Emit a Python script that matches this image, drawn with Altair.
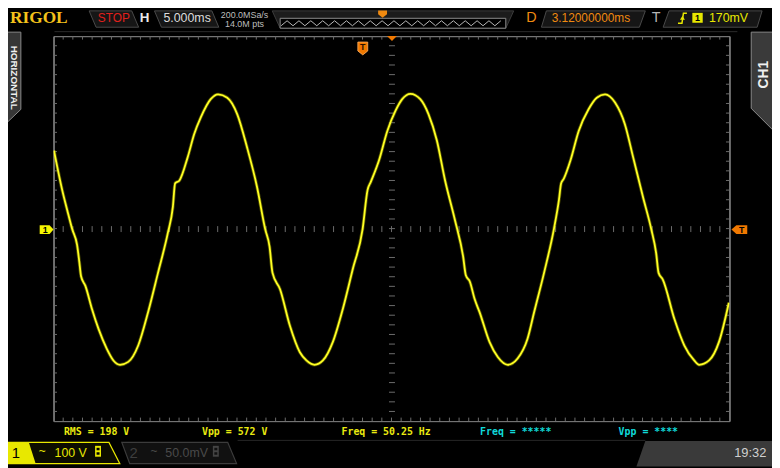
import altair as alt
import pandas as pd

# CH1 trace: time (ms, relative to screen centre) and voltage (V)
time_ms = [-34.95, -34.10, -33.59, -33.07, -32.56, -32.33, -32.15, -31.70, -31.02, -30.33,
           -29.48, -28.80, -28.11, -27.26, -26.23, -25.21, -24.18, -23.16, -22.64, -22.41,
           -21.96, -21.11, -20.42, -19.75, -18.72, -17.96, -17.01, -15.98, -14.96, -13.93,
           -13.08, -12.63, -12.32, -11.54, -10.52, -9.49, -8.81, -7.96, -7.10, -6.08,
           -5.04, -4.02, -2.99, -2.48, -2.14, -1.29, -0.43, 0.42, 1.11, 1.96,
           2.98, 3.83, 4.70, 5.55, 6.57, 7.42, 7.70, 8.11, 8.62, 9.13, 10.16,
           11.01, 12.04, 13.06, 14.09, 14.77, 15.80, 16.82, 17.34, 17.57, 17.85,
           18.54, 19.39, 20.41, 21.26, 22.12, 23.15, 24.17, 25.03, 26.04, 26.90,
           27.41, 27.66, 28.10, 29.30, 30.33, 31.35, 31.86, 32.89, 33.91, 34.94]
volts = [162, 80, 39, -1, -34, -69, -99, -119, -167, -209,
         -250, -274, -283, -277, -243, -174, -92, -9, 45, 94,
         100, 148, 197, 231, 269, 279, 272, 238, 169, 87,
         -1, -37, -92, -126, -202, -257, -274, -283, -274, -236,
         -167, -85, -1, 80, 97, 142, 203, 245, 269, 280,
         269, 238, 183, 100, 18, -58, -97, -110, -147, -174, -236,
         -267, -283, -270, -229, -174, -92, -1, 59, 94, 104,
         142, 203, 248, 272, 279, 262, 217, 148, 66, -1,
         -51, -92, -106, -188, -243, -274, -283, -274, -236, -154]

x_div_ms = [-35, -30, -25, -20, -15, -10, -5, 0, 5, 10, 15, 20, 25, 30, 35]   # 5.000 ms/div
y_div_v = [-400, -300, -200, -100, 0, 100, 200, 300, 400]                     # 100 V/div
x_minor_ms = list(range(-34, 35))          # 0.2 div sub-ticks
y_minor_v = list(range(-380, 381, 20))     # 0.2 div sub-ticks

measure_text = ["RMS = 198 V", "Vpp = 572 V", "Freq = 50.25 Hz", "Freq = *****", "Vpp = ****"]
header_text = ["STOP", "H", "5.000ms", "200.0MSa/s", "14.0M pts", "D", "3.12000000ms", "T", "170mV"]
channel_text = ["1", "100 V", "2", "50.0mV", "19:32"]

# ---------------- layout ----------------
OX, OY = 54, 34          # screen position of the graticule origin
W, H = 683, 389
BORDER = "#6c6c6c"
GRID = "#4f4f4f"
YEL = "#e8e800"
ORANGE = "#f08a10"
BOXTOP = 8.5


def lx(X):
    return X - OX


def ly(Y):
    return Y - OY


one = pd.DataFrame({"k": [0]})


def txt(X, Y, s, color, size, font="Liberation Sans", weight="normal", align="center", angle=0):
    return alt.Chart(one).mark_text(
        text=s, color=color, fontSize=size, font=font, fontWeight=weight,
        align=align, baseline="middle", angle=angle
    ).encode(x=alt.value(lx(X)), y=alt.value(ly(Y)))


def path_of(pts, close=True):
    d = "M" + " L".join(f"{lx(x):.2f},{ly(y):.2f}" for x, y in pts)
    return d + (" Z" if close else "")


def shape(pts, fill=None, stroke=None, sw=1.0, close=True):
    kw = dict(shape=path_of(pts, close), size=4, opacity=1)
    if fill:
        kw.update(filled=True, fill=fill)
    else:
        kw.update(filled=False, fill="transparent")
    if stroke:
        kw.update(stroke=stroke, strokeWidth=sw)
    else:
        kw.update(strokeWidth=0)
    return alt.Chart(one).mark_point(**kw).encode(x=alt.value(0), y=alt.value(0))


xs = alt.Scale(domain=[-35, 35], nice=False, zero=False)
ys = alt.Scale(domain=[-400, 400], nice=False, zero=False)
xaxis = alt.Axis(values=x_div_ms, grid=True, gridColor=GRID, gridDash=[1, 2], gridOpacity=1,
                 domain=False, ticks=False, labels=False, title=None)
yaxis = alt.Axis(values=y_div_v, grid=True, gridColor=GRID, gridDash=[1, 2], gridOpacity=1,
                 domain=False, ticks=False, labels=False, title=None)

wave_df = pd.DataFrame({"t": time_ms, "v": volts})
xt = pd.DataFrame({"t": x_minor_ms})
yt = pd.DataFrame({"v": y_minor_v})

layers = []

# ---- header chrome ----
layers.append(shape([(55, 29.5), (745, 29.5)], stroke="#2c2c2c", sw=1, close=False))
layers.append(txt(10, 16, "RIGOL", "#f4c21b", 17.5, font="Liberation Serif", weight="bold", align="left"))
layers.append(shape([(90, BOXTOP), (133, BOXTOP), (140, 25), (97, 25)], fill="#161616", stroke="#4a4a4a"))
layers.append(txt(115, 16, header_text[0], "#e0201c", 12))
layers.append(txt(146, 16, header_text[1], "#e8e8e8", 13.5, weight="bold"))
layers.append(shape([(156, BOXTOP), (214, BOXTOP), (221, 25), (163, 25)], fill="#161616", stroke="#4a4a4a"))
layers.append(txt(189, 16, header_text[2], "#dcdcdc", 12.5))
layers.append(txt(247, 12.8, header_text[3], "#bdbdbd", 9))
layers.append(txt(247, 22, header_text[4], "#bdbdbd", 9))
# memory overview
layers.append(shape([(275, BOXTOP), (519, BOXTOP), (511, 26), (283, 26)], fill="#1c1c1c", stroke="#3c3c3c"))
layers.append(shape([(283, 16), (511, 16), (511, 26), (283, 26)], fill="#000000", stroke="#8c8c8c"))
zig = [(284 + 6 * i, 23.5 if i % 2 == 0 else 18.5) for i in range(38)]
layers.append(shape(zig, stroke="#b8b8b8", sw=1, close=False))
layers.append(shape([(382, 8), (391, 8), (391, 12), (386.5, 15.5), (382, 12)], fill=ORANGE))
# delay / trigger
layers.append(txt(537, 16, header_text[5], ORANGE, 14.5))
layers.append(shape([(552, BOXTOP), (652, BOXTOP), (646, 25), (547, 25)], fill="#161616", stroke="#4a4a4a"))
layers.append(txt(597, 16, header_text[6], ORANGE, 12))
layers.append(txt(663, 16, header_text[7], "#b4b4b4", 14.5))
layers.append(shape([(676, BOXTOP), (770, BOXTOP), (765, 25), (670, 25)], fill="#161616", stroke="#4a4a4a"))
layers.append(shape([(685, 21), (689, 21), (690.5, 11), (694, 11)], stroke=YEL, sw=1.5, close=False))
layers.append(shape([(687, 17.5), (692, 17.5), (689.5, 13.5)], fill=YEL))
layers.append(shape([(699.5, 10.5), (710, 10.5), (710, 20.5), (699.5, 20.5)], fill=YEL))
layers.append(txt(704.8, 15.7, "1", "#000000", 9, weight="bold"))
layers.append(txt(736, 16, header_text[8], YEL, 12.5))

# ---- side tabs ----
layers.append(shape([(0, 30), (21, 30), (21, 108), (0, 128)], fill="#363636", stroke="#8a8a8a"))
layers.append(txt(14.5, 76, "HORIZONTAL", "#f0f0f0", 10, weight="bold", angle=90))
layers.append(shape([(759, 30), (781, 30), (781, 129), (759, 107)], fill="#3a3a3a", stroke="#8a8a8a"))
layers.append(txt(771.5, 73, "CH1", "#f0f0f0", 14, weight="bold", angle=270))

# ---- graticule: sub-ticks and border ----
tick_col = BORDER
layers.append(alt.Chart(xt).mark_rule(color=tick_col, strokeWidth=1).encode(
    x=alt.X("t:Q", scale=xs, axis=None), y=alt.value(0), y2=alt.value(3.5)))
layers.append(alt.Chart(xt).mark_rule(color=tick_col, strokeWidth=1).encode(
    x=alt.X("t:Q", scale=xs, axis=None), y=alt.value(H - 3.5), y2=alt.value(H)))
layers.append(alt.Chart(xt).mark_rule(color=tick_col, strokeWidth=1).encode(
    x=alt.X("t:Q", scale=xs, axis=None), y=alt.value(H / 2 - 2.5), y2=alt.value(H / 2 + 3.5)))
layers.append(alt.Chart(yt).mark_rule(color=tick_col, strokeWidth=1).encode(
    y=alt.Y("v:Q", scale=ys, axis=None), x=alt.value(0), x2=alt.value(3.5)))
layers.append(alt.Chart(yt).mark_rule(color=tick_col, strokeWidth=1).encode(
    y=alt.Y("v:Q", scale=ys, axis=None), x=alt.value(W - 3.5), x2=alt.value(W)))
layers.append(alt.Chart(yt).mark_rule(color=tick_col, strokeWidth=1).encode(
    y=alt.Y("v:Q", scale=ys, axis=None), x=alt.value(W / 2 - 2.5), x2=alt.value(W / 2 + 3.5)))
layers.append(alt.Chart(one).mark_rect(fill="transparent", stroke=BORDER, strokeWidth=1).encode(
    x=alt.value(0.5), x2=alt.value(W + 0.5), y=alt.value(0.5), y2=alt.value(H + 0.5)))

# ---- waveform ----
layers.append(alt.Chart(wave_df).mark_line(color="#b0b000", strokeWidth=3.4, opacity=0.45,
                                           interpolate="monotone", clip=True).encode(
    x=alt.X("t:Q", scale=xs, axis=xaxis), y=alt.Y("v:Q", scale=ys, axis=yaxis)))
layers.append(alt.Chart(wave_df).mark_line(color="#ffff24", strokeWidth=1.8, opacity=1,
                                           interpolate="monotone", clip=True).encode(
    x=alt.X("t:Q", scale=xs, axis=xaxis), y=alt.Y("v:Q", scale=ys, axis=yaxis)))

# ---- markers ----
layers.append(shape([(40, 225), (50, 225), (54, 229.5), (50, 234), (40, 234)], fill="#f5f500"))
layers.append(txt(45.5, 229.8, "1", "#000000", 9, weight="bold"))
layers.append(shape([(739, 229.5), (744, 225), (755, 225), (755, 234), (744, 234)], fill="#f07800"))
layers.append(txt(749.5, 229.8, "T", "#000000", 9, weight="bold"))
layers.append(shape([(391, 34), (401, 34), (396, 39)], fill="#f07800"))
layers.append(shape([(361.5, 40), (371.5, 40), (371.5, 49), (366.5, 53), (361.5, 49)], fill="#f07800",
                    stroke="#ffb060", sw=0.8))
layers.append(txt(366.5, 45.5, "T", "#2a1000", 9, weight="bold"))

# ---- measurements ----
mx = [64.5, 204, 345, 485, 625]
mcol = ["#eaea10", "#eaea10", "#eaea10", "#10dada", "#10dada"]
for X, s, c in zip(mx, measure_text, mcol):
    layers.append(txt(X, 434, s, c, 10, font="DejaVu Sans Mono", weight="bold", align="left"))

# ---- bottom channel bar ----
layers.append(shape([(240, 442.5), (652, 442.5)], stroke="#262626", sw=1, close=False))
layers.append(shape([(5, 444.5), (110, 444.5), (121, 466), (5, 466)], fill="#0c0c00", stroke=YEL, sw=1.2))
layers.append(shape([(5, 444.5), (29, 444.5), (36, 466), (5, 466)], fill=YEL))
layers.append(txt(16, 455, channel_text[0], "#000000", 15))
layers.append(txt(42.5, 453.5, "~", YEL, 12))
layers.append(txt(55, 455, channel_text[1], YEL, 12.5, align="left"))
layers.append(shape([(96, 448), (102, 448), (102, 459), (96, 459)], fill=YEL))
layers.append(shape([(97.5, 450), (100.5, 450), (100.5, 452.5), (97.5, 452.5)], fill="#000000"))
layers.append(shape([(97.5, 454.5), (100.5, 454.5), (100.5, 457), (97.5, 457)], fill="#000000"))

layers.append(shape([(123, 444.5), (230, 444.5), (239, 466), (131, 466)], fill="#111111", stroke="#3c3c3c", sw=1.2))
layers.append(txt(135, 455, channel_text[2], "#3e3e3e", 15))
layers.append(txt(155.5, 453.5, "~", "#4a4a4a", 12))
layers.append(txt(167, 455, channel_text[3], "#4a4a4a", 12.5, align="left"))
layers.append(shape([(215, 448), (221, 448), (221, 459), (215, 459)], fill="#444444"))
layers.append(shape([(216.5, 450), (219.5, 450), (219.5, 452.5), (216.5, 452.5)], fill="#111111"))
layers.append(shape([(216.5, 454.5), (219.5, 454.5), (219.5, 457), (216.5, 457)], fill="#111111"))

layers.append(shape([(652, 443), (781, 443), (781, 469), (643, 469)], fill="#3a3a3a"))
layers.append(txt(758, 455, channel_text[4], "#cfcfcf", 13))

chart = alt.layer(*layers).properties(
    width=W, height=H,
    padding={"left": 46, "top": 26, "right": 43, "bottom": 45},
    autosize=alt.AutoSizeParams(type="none"),
).configure_view(stroke=None).configure(background="#000000")

chart.save("out.html", embed_options={"renderer": "svg", "actions": False})
